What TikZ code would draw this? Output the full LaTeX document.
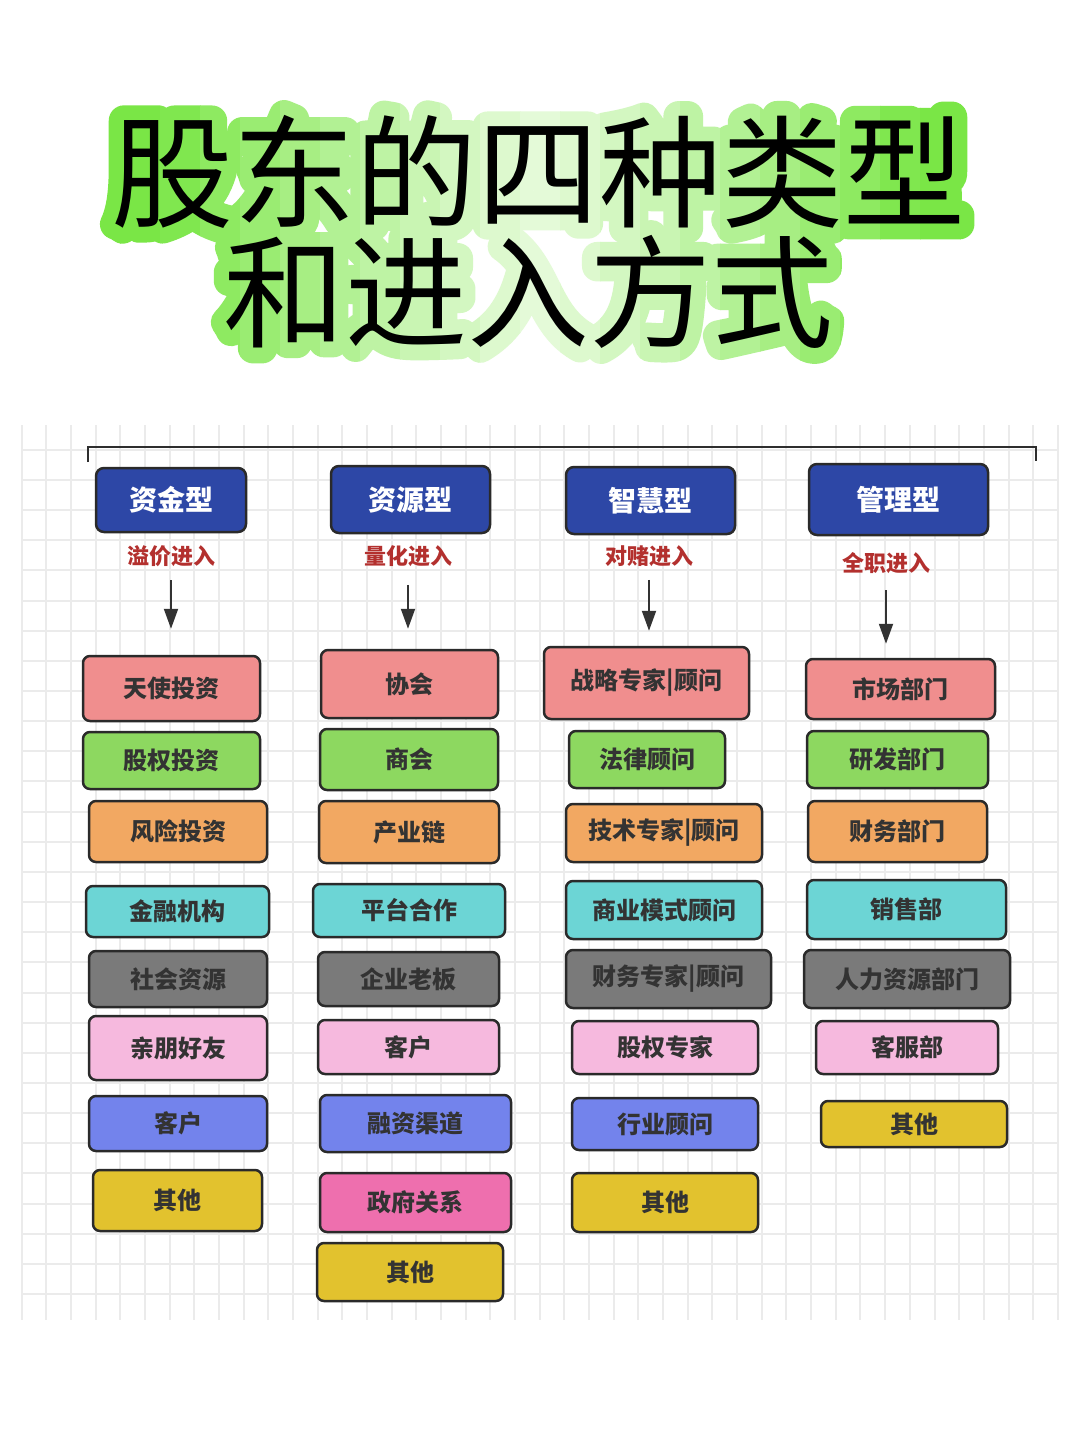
\documentclass[tikz,border=0pt]{standalone}
\usepackage{fontspec}
\newfontfamily\cjk{Noto Sans CJK SC}
\newfontfamily\cjkglowA{Noto Sans CJK SC}[FakeBold=25]
\usetikzlibrary{arrows.meta}
\definecolor{gridc}{HTML}{EBEBEB}
\definecolor{hdrblue}{HTML}{2D47A6}
\definecolor{edgec}{HTML}{2A2A2A}
\definecolor{txtc}{HTML}{333333}
\definecolor{redlab}{HTML}{B3302E}
\definecolor{cred}{HTML}{F08E8E}
\definecolor{cgreen}{HTML}{8DD860}
\definecolor{corange}{HTML}{F2A862}
\definecolor{ccyan}{HTML}{6CD5D5}
\definecolor{cgray}{HTML}{7A7A7A}
\definecolor{clpink}{HTML}{F6B9DE}
\definecolor{cviolet}{HTML}{7383EC}
\definecolor{cyellow}{HTML}{E2C22E}
\definecolor{chpink}{HTML}{EE6FAE}
\definecolor{glowg}{HTML}{7AE646}
\definecolor{glowp}{HTML}{E4FAD8}
\tikzset{
  gridline/.style={draw=gridc, line width=1pt},
  cell/.style={draw=edgec, line width=1.25pt, rounded corners=3.5pt, inner sep=0pt,
    text=txtc, font=\cjk\bfseries\fontsize{12}{12}\selectfont},
  hdr/.style={cell, fill=hdrblue, draw=edgec, text=white, rounded corners=4pt,
    font=\cjk\bfseries\fontsize{14}{14}\selectfont},
  lab/.style={inner sep=0pt, text=redlab, font=\cjk\bfseries\fontsize{11}{11}\selectfont},
  arr/.style={draw=txtc, line width=1pt, -{Triangle[width=7pt,length=10pt]}},
  brk/.style={draw=txtc!90!black, line width=1.2pt},
  ttl/.style={inner sep=0pt, font=\cjk\fontsize{61}{61}\selectfont},
  glowa/.style={inner sep=0pt, font=\cjkglowA\fontsize{61}{61}\selectfont},
}
\newcommand\cbox[7]{%
  \pgfmathsetmacro\cx{(#2+#4)/2}\pgfmathsetmacro\cy{(#3+#5)/2}%
  \pgfmathsetmacro\ww{(#4-#2)*0.5}\pgfmathsetmacro\hh{(#5-#3)*0.5}%
  \node[cell, fill=#6, minimum width=\ww pt, minimum height=\hh pt] (#1) at (\cx,\cy) {#7};}
\newcommand\hdrbox[6]{%
  \pgfmathsetmacro\cx{(#2+#4)/2}\pgfmathsetmacro\cy{(#3+#5)/2}%
  \pgfmathsetmacro\ww{(#4-#2)*0.5}\pgfmathsetmacro\hh{(#5-#3)*0.5}%
  \node[hdr, minimum width=\ww pt, minimum height=\hh pt] (#1) at (\cx,\cy) {#6};}
\begin{document}
\begin{tikzpicture}[x=0.5pt,y=-0.5pt]
\useasboundingbox (0,0) rectangle (1080,1440);
\fill[white] (0,0) rectangle (1080,1440);
% grid
\foreach \i in {0,...,42} \draw[gridline] ({21.7+24.67*\i},425) -- ({21.7+24.67*\i},1320);
\foreach \k in {0,...,28} \draw[gridline] (21.7,{1294-30.15*\k}) -- (1058,{1294-30.15*\k});
% title glow: green at both ends, pale in the middle (vertical strips)
\foreach \s in {0,...,22}{
  \pgfmathsetmacro\xa{80+40*\s}
  \pgfmathsetmacro\xb{\xa+40.6}
  \pgfmathsetmacro\p{min(100,100*((abs(\xa+20-540)+1)/380)^1.2)}
  \begin{scope}
    \clip (\xa,60) rectangle (\xb,400);
    \node[glowa, text=glowg!\p!glowp] (ga\s) at (538,172) {\special{pdf:code 1 j 1 J}股东的四种类型};
    \ifdim \xa pt>160pt \ifdim \xa pt<880pt
      \node[glowa, text=glowg!\p!glowp] (gb\s) at (528,292) {\special{pdf:code 1 j 1 J}和进入方式};
    \fi\fi
  \end{scope}
}
\node[ttl, text=black] (t1) at (538,172) {股东的四种类型};
\node[ttl, text=black] (t2) at (528,292) {和进入方式};
% bracket
\coordinate (bl) at (88,462);
\coordinate (blt) at (88,447);
\coordinate (brt) at (1036,447);
\coordinate (br) at (1036,461);
\draw[brk] (bl) -- (blt) -- (brt) -- (br);
% headers
\hdrbox{h1}{96}{468}{246}{532}{资金型}
\hdrbox{h2}{331}{466}{490}{533}{资源型}
\hdrbox{h3}{566}{467}{735}{534}{智慧型}
\hdrbox{h4}{809}{464}{988}{535}{管理型}
% labels
\node[lab] (l1) at (171,556) {溢价进入};
\node[lab] (l2) at (408,556) {量化进入};
\node[lab] (l3) at (649,556) {对赌进入};
\node[lab] (l4) at (886,563) {全职进入};
% column 1
\cbox{a1}{83}{656}{260}{721}{cred}{天使投资}
\cbox{a2}{83}{732}{260}{789}{cgreen}{股权投资}
\cbox{a3}{89}{801}{267}{862}{corange}{风险投资}
\cbox{a4}{86}{886}{269}{937}{ccyan}{金融机构}
\cbox{a5}{89}{951}{267}{1007}{cgray}{社会资源}
\cbox{a6}{89}{1016}{267}{1080}{clpink}{亲朋好友}
\cbox{a7}{89}{1096}{267}{1151}{cviolet}{客户}
\cbox{a8}{93}{1170}{262}{1231}{cyellow}{其他}
% column 2
\cbox{b1}{321}{650}{498}{718}{cred}{协会}
\cbox{b2}{320}{729}{498}{790}{cgreen}{商会}
\cbox{b3}{319}{801}{499}{863}{corange}{产业链}
\cbox{b4}{313}{884}{505}{937}{ccyan}{平台合作}
\cbox{b5}{318}{952}{499}{1006}{cgray}{企业老板}
\cbox{b6}{318}{1020}{499}{1074}{clpink}{客户}
\cbox{b7}{320}{1095}{511}{1152}{cviolet}{融资渠道}
\cbox{b8}{320}{1173}{511}{1232}{chpink}{政府关系}
\cbox{b9}{317}{1243}{503}{1301}{cyellow}{其他}
% column 3
\cbox{c1}{544}{647}{749}{719}{cred}{战略专家|顾问}
\cbox{c2}{569}{731}{725}{788}{cgreen}{法律顾问}
\cbox{c3}{566}{804}{762}{862}{corange}{技术专家|顾问}
\cbox{c4}{566}{881}{762}{939}{ccyan}{商业模式顾问}
\cbox{c5}{566}{950}{771}{1008}{cgray}{财务专家|顾问}
\cbox{c6}{572}{1021}{758}{1074}{clpink}{股权专家}
\cbox{c7}{572}{1098}{758}{1150}{cviolet}{行业顾问}
\cbox{c8}{572}{1173}{758}{1232}{cyellow}{其他}
% column 4
\cbox{d1}{806}{659}{995}{719}{cred}{市场部门}
\cbox{d2}{807}{731}{988}{788}{cgreen}{研发部门}
\cbox{d3}{808}{801}{987}{862}{corange}{财务部门}
\cbox{d4}{807}{880}{1006}{939}{ccyan}{销售部}
\cbox{d5}{804}{950}{1010}{1008}{cgray}{人力资源部门}
\cbox{d6}{816}{1021}{998}{1074}{clpink}{客服部}
\cbox{d7}{821}{1101}{1007}{1147}{cyellow}{其他}
% arrows
\draw[arr, shorten <=6.5pt, shorten >=13pt] (l1.south) -- (l1.south |- a1.north);
\draw[arr, shorten <=9pt, shorten >=10pt] (l2.south) -- (l2.south |- b1.north);
\draw[arr, shorten <=6.5pt, shorten >=7.5pt] (l3.south) -- (l3.south |- c1.north);
\draw[arr, shorten <=8pt, shorten >=7pt] (l4.south) -- (l4.south |- d1.north);
\end{tikzpicture}
\end{document}
